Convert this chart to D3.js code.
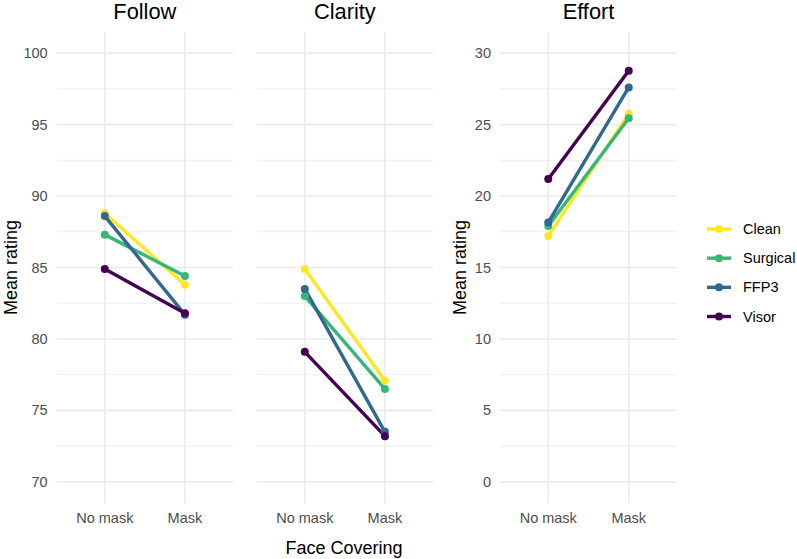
<!DOCTYPE html>
<html>
<head>
<meta charset="utf-8">
<script src="https://cdn.jsdelivr.net/npm/d3@7"></script>
<style>
  body { margin: 0; background: #fff; }
  svg { font-family: 'Liberation Sans', Arial, sans-serif; }
  .grid-major { stroke: #ebebeb; stroke-width: 1.6; }
  .grid-minor { stroke: #ebebeb; stroke-width: 0.9; }
  .tick-label { fill: #4d4d4d; font-size: 14.5px; }
  .axis-title { fill: #000; font-size: 18px; }
  .panel-title { fill: #000; font-size: 21.8px; }
  .legend-text { fill: #000; font-size: 14.5px; }
</style>
</head>
<body>
<div id="chart"></div>
<script>
'use strict'

const WIDTH = 797
const HEIGHT = 559

const conditions = ['No mask', 'Mask']
const maskTypes = ['Clean', 'Surgical', 'FFP3', 'Visor']
const colors = ['#fde725', '#35b779', '#31688e', '#440154']

// mean rating per mask type, [No mask, Mask]
const followValues = [
  [88.8, 83.8],
  [87.3, 84.4],
  [88.6, 81.7],
  [84.9, 81.8]
]
const clarityValues = [
  [84.9, 77.1],
  [83.0, 76.5],
  [83.5, 73.5],
  [79.1, 73.2]
]
const effortValues = [
  [17.2, 25.75],
  [17.9, 25.45],
  [18.15, 27.6],
  [21.2, 28.77]
]

const ratingTicks = [70, 75, 80, 85, 90, 95, 100]
const ratingMinor = [72.5, 77.5, 82.5, 87.5, 92.5, 97.5]
const effortTicks = [0, 5, 10, 15, 20, 25, 30]
const effortMinor = [2.5, 7.5, 12.5, 17.5, 22.5, 27.5]

const panelTop = 31.7
const panelBottom = 503.3
const lineWidth = 3.4
const pointRadius = 4

const svg = d3.select('#chart')
  .append('svg')
  .attr('width', WIDTH)
  .attr('height', HEIGHT)

function expandDomain (lo, hi) {
  const pad = (hi - lo) * 0.05
  return [lo - pad, hi + pad]
}

function drawPanel (opts) {
  const x = d3.scalePoint()
    .domain(conditions)
    .range([opts.left, opts.right])
    .padding(0.6)
  const y = d3.scaleLinear()
    .domain(expandDomain(opts.limits[0], opts.limits[1]))
    .range([panelBottom, panelTop])

  const g = svg.append('g')

  g.selectAll('line.grid-minor')
    .data(opts.minor)
    .enter()
    .append('line')
    .attr('class', 'grid-minor')
    .attr('x1', opts.left)
    .attr('x2', opts.right)
    .attr('y1', (d) => y(d))
    .attr('y2', (d) => y(d))

  g.selectAll('line.grid-h')
    .data(opts.ticks)
    .enter()
    .append('line')
    .attr('class', 'grid-major')
    .attr('x1', opts.left)
    .attr('x2', opts.right)
    .attr('y1', (d) => y(d))
    .attr('y2', (d) => y(d))

  g.selectAll('line.grid-v')
    .data(conditions)
    .enter()
    .append('line')
    .attr('class', 'grid-major')
    .attr('x1', (d) => x(d))
    .attr('x2', (d) => x(d))
    .attr('y1', panelTop)
    .attr('y2', panelBottom)

  if (opts.showY) {
    g.selectAll('text.y-tick')
      .data(opts.ticks)
      .enter()
      .append('text')
      .attr('class', 'tick-label')
      .attr('x', opts.left - 9)
      .attr('y', (d) => y(d))
      .attr('dy', '0.35em')
      .attr('text-anchor', 'end')
      .text((d) => d)

    g.append('text')
      .attr('class', 'axis-title')
      .attr('transform', `translate(${opts.yTitleX}, ${(panelTop + panelBottom) / 2}) rotate(-90)`)
      .attr('text-anchor', 'middle')
      .text('Mean rating')
  }

  g.selectAll('text.x-tick')
    .data(conditions)
    .enter()
    .append('text')
    .attr('class', 'tick-label')
    .attr('x', (d) => x(d))
    .attr('y', 523)
    .attr('text-anchor', 'middle')
    .text((d) => d)

  g.append('text')
    .attr('class', 'panel-title')
    .attr('x', (opts.left + opts.right) / 2)
    .attr('y', 18.5)
    .attr('text-anchor', 'middle')
    .text(opts.title)

  const line = d3.line()
    .x((d, i) => x(conditions[i]))
    .y((d) => y(d))

  g.selectAll('path.series')
    .data(opts.values)
    .enter()
    .append('path')
    .attr('fill', 'none')
    .attr('stroke', (d, i) => colors[i])
    .attr('stroke-width', lineWidth)
    .attr('d', line)

  opts.values.forEach((vals, i) => {
    g.selectAll(null)
      .data(vals)
      .enter()
      .append('circle')
      .attr('cx', (d, j) => x(conditions[j]))
      .attr('cy', (d) => y(d))
      .attr('r', pointRadius)
      .attr('fill', colors[i])
  })
}

drawPanel({
  title: 'Follow',
  left: 56.7,
  right: 233,
  limits: [70, 100],
  ticks: ratingTicks,
  minor: ratingMinor,
  values: followValues,
  showY: true,
  yTitleX: 17
})

drawPanel({
  title: 'Clarity',
  left: 256.7,
  right: 433,
  limits: [70, 100],
  ticks: ratingTicks,
  minor: ratingMinor,
  values: clarityValues,
  showY: false
})

drawPanel({
  title: 'Effort',
  left: 500,
  right: 677,
  limits: [0, 30],
  ticks: effortTicks,
  minor: effortMinor,
  values: effortValues,
  showY: true,
  yTitleX: 466
})

svg.append('text')
  .attr('class', 'axis-title')
  .attr('x', 344)
  .attr('y', 554)
  .attr('text-anchor', 'middle')
  .text('Face Covering')

// legend
const legendY = d3.scalePoint()
  .domain(maskTypes)
  .range([229, 316.5])

const legend = svg.append('g')
maskTypes.forEach((name, i) => {
  const cy = legendY(name)
  legend.append('line')
    .attr('x1', 707)
    .attr('x2', 731)
    .attr('y1', cy)
    .attr('y2', cy)
    .attr('stroke', colors[i])
    .attr('stroke-width', lineWidth)
  legend.append('circle')
    .attr('cx', 719)
    .attr('cy', cy)
    .attr('r', pointRadius)
    .attr('fill', colors[i])
  legend.append('text')
    .attr('class', 'legend-text')
    .attr('x', 743)
    .attr('y', cy)
    .attr('dy', '0.35em')
    .text(name)
})
</script>
</body>
</html>
